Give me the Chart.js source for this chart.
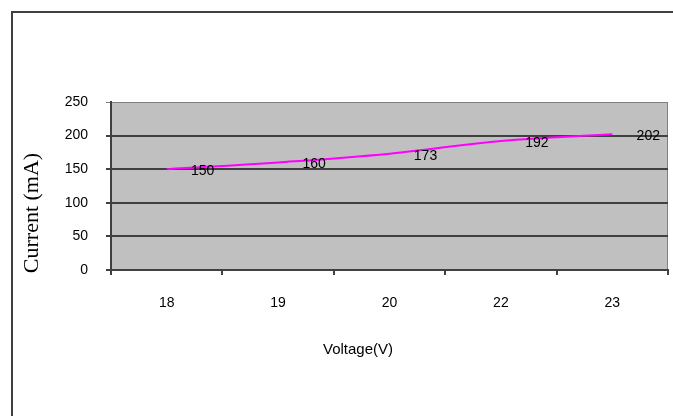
<!DOCTYPE html>
<html>
<head>
<meta charset="utf-8">
<title>Current vs Voltage</title>
<script src="https://cdn.jsdelivr.net/npm/chart.js@4/dist/chart.umd.min.js"></script>
<style>
    html, body { margin: 0; padding: 0; background: #fff; }
    #wrap { width: 673px; height: 416px; position: relative; }
</style>
</head>
<body>
<div id="wrap"><canvas id="chart-1" width="673" height="416"></canvas></div>
<script>
var voltageLabels = ['18', '19', '20', '22', '23'];
var currentValues = [150, 160, 173, 192, 202];
var yTickMin = 0,
    yTickMax = 250,
    yTickStep = 50;

var xTitle = 'Voltage(V)';
var yTitle = 'Current (mA)';

var plotBg = {
    id: 'plotBg',
    beforeDraw: function (chart) {
        var ctx = chart.ctx, a = chart.chartArea;
        ctx.save();
        // outer frame (only left and top visible in the picture)
        ctx.strokeStyle = '#404040';
        ctx.lineWidth = 2;
        ctx.beginPath();
        ctx.moveTo(12, 416);
        ctx.lineTo(12, 12);
        ctx.lineTo(673, 12);
        ctx.stroke();
        // plot area
        ctx.fillStyle = '#c0c0c0';
        ctx.fillRect(a.left, a.top, a.right - a.left, a.bottom - a.top);
        ctx.strokeStyle = '#808080';
        ctx.lineWidth = 1;
        ctx.strokeRect(a.left + 0.5, a.top + 0.5, a.right - a.left - 1, a.bottom - a.top);
        ctx.restore();
    }
};

var titlesAndLabels = {
    id: 'titlesAndLabels',
    afterDatasetsDraw: function (chart) {
        var ctx = chart.ctx;
        var meta = chart.getDatasetMeta(0);
        ctx.save();
        ctx.fillStyle = '#000';
        ctx.font = '14px "Liberation Sans", Arial, sans-serif';
        ctx.textAlign = 'center';
        ctx.textBaseline = 'middle';
        meta.data.forEach(function (pt, i) {
            ctx.fillText(String(currentValues[i]), pt.x + 36, pt.y + 2);
        });

        ctx.font = '15px "Liberation Sans", Arial, sans-serif';
        ctx.fillText(xTitle, 358, 350);

        ctx.translate(32, 213);
        ctx.rotate(-Math.PI / 2);
        ctx.font = '22px "Liberation Serif", "Times New Roman", serif';
        ctx.fillText(yTitle, 0, 0);
        ctx.restore();
    }
};

new Chart('chart-1', {
    type: 'line',
    data: {
        labels: voltageLabels,
        datasets: [{
            data: currentValues,
            borderColor: '#ff00ff',
            borderWidth: 2,
            pointRadius: 0,
            tension: 0.4,
            fill: false
        }]
    },
    options: {
        responsive: false,
        animation: false,
        layout: {
            padding: { left: 0, top: 102, right: 5, bottom: 0 }
        },
        plugins: {
            legend: { display: false },
            tooltip: { enabled: false }
        },
        scales: {
            x: {
                offset: true,
                afterFit: function (scale) { scale.height = 146; },
                border: { color: '#404040', width: 2 },
                grid: {
                    offset: true,
                    drawOnChartArea: false,
                    drawTicks: true,
                    tickLength: 5,
                    color: '#404040',
                    lineWidth: 2
                },
                ticks: {
                    color: '#000',
                    padding: 20,
                    maxRotation: 0,
                    font: { family: '"Liberation Sans", Arial, sans-serif', size: 14 }
                }
            },
            y: {
                min: yTickMin,
                max: yTickMax,
                afterFit: function (scale) { scale.width = 111; },
                border: { color: '#404040', width: 2 },
                grid: {
                    tickLength: 5,
                    color: function (c) {
                        return c.tick && c.tick.value === yTickMax ? '#808080' : '#404040';
                    },
                    lineWidth: function (c) {
                        return c.tick && c.tick.value === yTickMax ? 1 : 2;
                    }
                },
                ticks: {
                    stepSize: yTickStep,
                    color: '#000',
                    padding: 18,
                    font: { family: '"Liberation Sans", Arial, sans-serif', size: 14 }
                }
            }
        }
    },
    plugins: [plotBg, titlesAndLabels]
});
</script>
</body>
</html>
